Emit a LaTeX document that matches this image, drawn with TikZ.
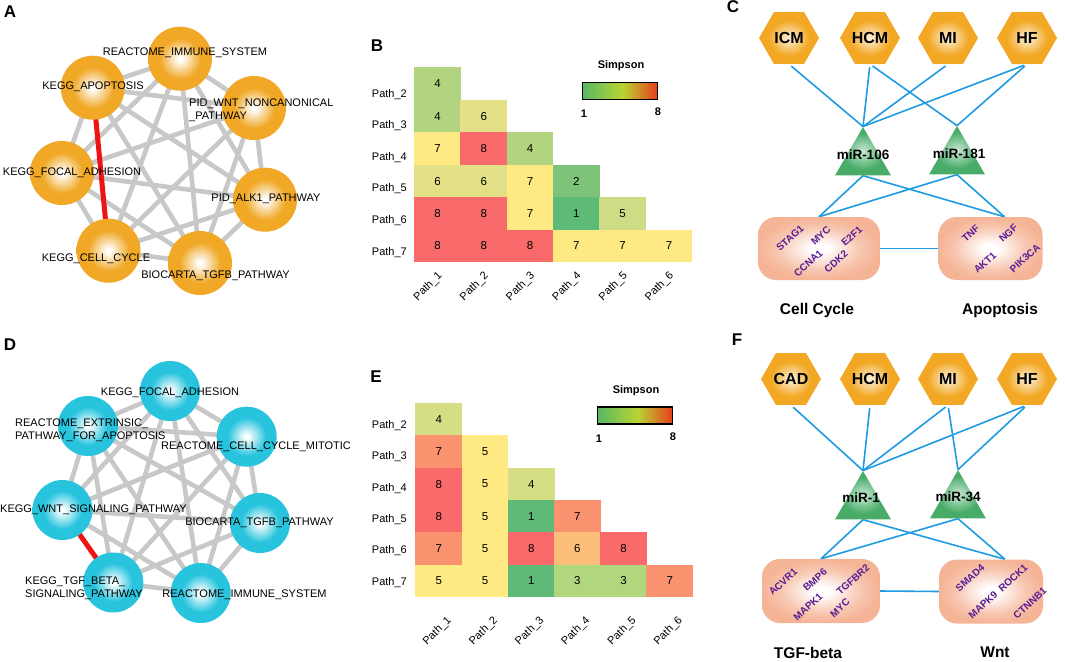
\documentclass[tikz,border=0pt]{standalone}
\usepackage{fontspec}
\setmainfont{Liberation Sans}
\usetikzlibrary{calc,shapes.geometric,backgrounds}
\definecolor{nodeor}{RGB}{240,168,38}
\definecolor{nodecy}{RGB}{40,196,222}
\definecolor{edgegr}{RGB}{200,200,200}
\definecolor{edgered}{RGB}{238,20,20}
\definecolor{linkbl}{RGB}{30,155,225}
\definecolor{genepu}{RGB}{88,28,150}
\definecolor{hexor}{RGB}{242,168,36}
\definecolor{trigr}{RGB}{72,172,104}
\definecolor{boxsa}{RGB}{245,180,150}
\definecolor{cbone}{RGB}{88,184,100}
\definecolor{cbtwo}{RGB}{185,212,50}
\definecolor{cbthree}{RGB}{232,60,28}
\definecolor{B1}{HTML}{5DBB77}
\definecolor{B2}{HTML}{7DC47A}
\definecolor{B4}{HTML}{B3D47F}
\definecolor{B5}{HTML}{CEDC86}
\definecolor{B6}{HTML}{E3E088}
\definecolor{B7}{HTML}{FEE983}
\definecolor{B8}{HTML}{F96A6A}
\definecolor{E1}{HTML}{5DBB77}
\definecolor{E3}{HTML}{B0D67E}
\definecolor{E4}{HTML}{D6DE85}
\definecolor{E5}{HTML}{FEE983}
\definecolor{E6}{HTML}{FDBE7C}
\definecolor{E7}{HTML}{FA9270}
\definecolor{E8}{HTML}{F96A6A}
\pgfdeclareradialshading{ballor}{\pgfpoint{0bp}{0bp}}{color(0bp)=(white); color(1.5bp)=(white); color(16bp)=(nodeor); color(25bp)=(nodeor); color(50bp)=(nodeor)}
\pgfdeclareradialshading{ballcy}{\pgfpoint{0bp}{0bp}}{color(0bp)=(white); color(1.5bp)=(white); color(16bp)=(nodecy); color(25bp)=(nodecy); color(50bp)=(nodecy)}
\pgfdeclareradialshading{hexsh}{\pgfpoint{0bp}{0bp}}{color(0bp)=(white!85!hexor); color(17bp)=(hexor); color(50bp)=(hexor)}
\pgfdeclareradialshading{trish}{\pgfpoint{0bp}{0bp}}{color(0bp)=(white!72!trigr); color(19bp)=(trigr); color(50bp)=(trigr)}
\pgfdeclareradialshading{boxsh}{\pgfpoint{0bp}{0bp}}{color(0bp)=(white); color(3.5bp)=(white); color(17bp)=(boxsa!75!white); color(25bp)=(boxsa); color(50bp)=(boxsa)}
\pgfdeclarehorizontalshading{simpsh}{100bp}{color(0bp)=(cbone); color(25bp)=(cbone); color(52bp)=(cbtwo); color(75bp)=(cbthree); color(100bp)=(cbthree)}
\tikzset{
  lbl/.style={font=\fontsize{11}{13}\selectfont, inner sep=0, align=center},
  lbll/.style={font=\fontsize{11}{13}\selectfont, inner sep=0, align=left, anchor=west},
  panel/.style={font=\fontsize{17}{20}\selectfont\bfseries, inner sep=0},
  hcell/.style={minimum width=46.7pt, minimum height=32.8pt, inner sep=0, font=\fontsize{11.5}{13}\selectfont},
  axlbl/.style={font=\fontsize{11}{13}\selectfont, inner sep=1pt},
  legt/.style={font=\fontsize{11}{13}\selectfont\bfseries, inner sep=0},
  cbar/.style={draw=black, line width=1.6pt, minimum width=75pt, minimum height=17pt, inner sep=0, shading=simpsh},
  ballA/.style={circle, minimum size=64pt, inner sep=0, shading=ballor},
  ballD/.style={circle, minimum size=60pt, inner sep=0, shading=ballcy},
  gedge/.style={draw=edgegr, line width=4.6pt},
  redge/.style={draw=edgered, line width=5pt},
  hexn/.style={regular polygon, regular polygon sides=6, minimum size=60pt, inner sep=0, shading=hexsh, font=\fontsize{16}{18}\selectfont\bfseries},
  trin/.style={regular polygon, regular polygon sides=3, minimum size=64.6pt, inner sep=0, shading=trish},
  mirlbl/.style={font=\fontsize{13.5}{15}\selectfont\bfseries, inner sep=0},
  genebox/.style={rectangle, rounded corners=18pt, minimum height=63pt, inner sep=0, shading=boxsh},
  gene/.style={font=\fontsize{10}{12}\selectfont\bfseries, text=genepu, rotate=42, inner sep=0},
  link/.style={draw=linkbl, line width=1.6pt},
  grp/.style={font=\fontsize{15.5}{18}\selectfont\bfseries, inner sep=0}
}
\begin{document}
\begin{tikzpicture}[x=1pt,y=-1pt]
\useasboundingbox (0,0) rectangle (1065,661);
\begin{scope}[on background layer]
\fill[white] (0,0) rectangle (1065,661);
\end{scope}

% ---------------- panel letters
\node[panel] (pA) at (10,12) {A};
\node[panel] (pB) at (377,46) {B};
\node[panel] (pC) at (733,7) {C};
\node[panel] (pD) at (10,345) {D};
\node[panel] (pE) at (376,377) {E};
\node[panel] (pF) at (737,340) {F};

% ---------------- panel A
\node[ballA] (a1) at (180,58.7) {};
\node[ballA] (a2) at (92.8,87.7) {};
\node[ballA] (a3) at (254,108) {};
\node[ballA] (a4) at (62,173) {};
\node[ballA] (a5) at (265,199.7) {};
\node[ballA] (a6) at (108.5,250.7) {};
\node[ballA] (a7) at (200,263) {};
\begin{scope}[on background layer]
\foreach \i/\j in {1/2,1/3,1/4,1/5,1/6,1/7,2/3,2/4,2/5,2/7,3/4,3/5,3/6,3/7,4/5,4/6,4/7,5/6,5/7,6/7}
  \draw[gedge] (a\i.center) -- (a\j.center);
\draw[redge] (a2.center) -- (a6.center);
\end{scope}
\node[lbl] (la1) at (185,53) {REACTOME\_IMMUNE\_SYSTEM};
\node[lbl] (la2) at (93,87) {KEGG\_APOPTOSIS};
\node[lbll] (la3) at (189,110.5) {PID\_WNT\_NONCANONICAL\\\_PATHWAY};
\node[lbl] (la4) at (72,173) {KEGG\_FOCAL\_ADHESION};
\node[lbl] (la5) at (266,199) {PID\_ALK1\_PATHWAY};
\node[lbl] (la6) at (96,259) {KEGG\_CELL\_CYCLE};
\node[lbl] (la7) at (215.5,276) {BIOCARTA\_TGFB\_PATHWAY};

% ---------------- panel D
\node[ballD] (d1) at (170,391) {};
\node[ballD] (d2) at (88,426) {};
\node[ballD] (d3) at (246.7,436.7) {};
\node[ballD] (d4) at (62.5,510) {};
\node[ballD] (d5) at (260,523) {};
\node[ballD] (d6) at (113.3,582.5) {};
\node[ballD] (d7) at (200.7,593) {};
\begin{scope}[on background layer]
\foreach \i/\j in {1/2,1/3,1/4,1/5,1/6,1/7,2/3,2/4,2/5,2/6,2/7,3/4,3/5,3/6,3/7,4/5,4/7,5/6,5/7,6/7}
  \draw[gedge] (d\i.center) -- (d\j.center);
\draw[redge] (d4.center) -- (d6.center);
\end{scope}
\node[lbl] (ld1) at (170,393) {KEGG\_FOCAL\_ADHESION};
\node[lbll] (ld2) at (15,430.5) {REACTOME\_EXTRINSIC\_\\PATHWAY\_FOR\_APOPTOSIS};
\node[lbll] (ld3) at (161,447) {REACTOME\_CELL\_CYCLE\_MITOTIC};
\node[lbl] (ld4) at (93.5,510) {KEGG\_WNT\_SIGNALING\_PATHWAY};
\node[lbl] (ld5) at (259.5,523) {BIOCARTA\_TGFB\_PATHWAY};
\node[lbll] (ld6) at (25,588.5) {KEGG\_TGF\_BETA\_\\SIGNALING\_PATHWAY};
\node[lbl] (ld7) at (244.5,595) {REACTOME\_IMMUNE\_SYSTEM};

% ---------------- panel B heatmap
\foreach \r/\vals in {2/{4},3/{4,6},4/{7,8,4},5/{6,6,7,2},6/{8,8,7,1,5},7/{8,8,8,7,7,7}}{
  \foreach \v [count=\c] in \vals {
    \node[hcell, fill=B\v] (B-\r-\c) at ({414.3+46.3*(\c-0.5)},{67.7+32.4*(\r-1.5)}) {\v};
  }
}
\foreach \r in {2,...,7}
  \node[axlbl, anchor=east] (BR\r) at (408,{94.3+31.6*(\r-2)}) {Path\_\r};
\foreach \c in {1,...,6}
  \node[axlbl, rotate=45, anchor=east] (BC\c) at ({414.3+46.3*(\c-0.5)+3.8},273.5) {Path\_\c};
\node[legt] (BS) at (621,66) {Simpson};
\node[cbar] (Bbar) at (620,91) {};
\node[legt] (Bmin) at (584,114) {1};
\node[legt] (Bmax) at (658,112) {8};

% ---------------- panel E heatmap
\foreach \r/\vals in {2/{4},3/{7,5},4/{8,5,4},5/{8,5,1,7},6/{7,5,8,6,8},7/{5,5,1,3,3,7}}{
  \foreach \v [count=\c] in \vals {
    \node[hcell, fill=E\v] (E-\r-\c) at ({415.7+46.2*(\c-0.5)},{403.3+32.3*(\r-1.5)}) {\v};
  }
}
\foreach \r in {2,...,7}
  \node[axlbl, anchor=east] (ER\r) at (408,{425.5+31.4*(\r-2)}) {Path\_\r};
\foreach \c in {1,...,6}
  \node[axlbl, rotate=45, anchor=east] (EC\c) at ({415.7+46.2*(\c-0.5)+11.7},618) {Path\_\c};
\node[legt] (ES) at (636,391) {Simpson};
\node[legt] (Emin) at (599,439) {1};
\node[legt] (Emax) at (673,437) {8};
\node[cbar] (Ebar) at (635,415.5) {};

% ---------------- panel C
\node[hexn] (icm) at (789,38) {ICM};
\node[hexn] (hcm) at (870,38) {HCM};
\node[hexn] (mi) at (948,38) {MI};
\node[hexn] (hf) at (1027,38) {HF};
\node[trin] (m106) at (863,159.3) {};
\node[trin] (m181) at (957,158.3) {};
\node[mirlbl] (m106t) at (863,155) {miR-106};
\node[mirlbl] (m181t) at (959,154) {miR-181};
\node[genebox, minimum width=122pt] (cc) at (819,248.5) {};
\node[genebox, minimum width=104pt] (ap) at (990.5,248.5) {};
\begin{scope}[on background layer]
\foreach \h/\t in {icm/m106,hcm/m106,hcm/m181,mi/m106,hf/m106,hf/m181}
  \draw[link, shorten <=3pt] (\h.south) -- (\t.north);
\draw[link] (m106.south) -- (cc.north);
\draw[link] (m181.south) -- (cc.north);
\draw[link] (m106.south) -- ($(ap.north)+(14,0)$);
\draw[link] (m181.south) -- ($(ap.north)+(14,0)$);
\draw[link] (cc.east) -- (ap.west);
\end{scope}
\node[gene] (g1) at (790,238.3) {STAG1};
\node[gene] (g2) at (820.7,236) {MYC};
\node[gene] (g3) at (851.7,236) {E2F1};
\node[gene] (g4) at (808.3,263.3) {CCNA1};
\node[gene] (g5) at (836,261.7) {CDK2};
\node[gene] (g6) at (970.7,233.3) {TNF};
\node[gene] (g7) at (1008.3,233.3) {NGF};
\node[gene] (g8) at (985,262.7) {AKT1};
\node[gene] (g9) at (1025,258.3) {PIK3CA};
\node[grp] (ccl) at (817,310) {Cell Cycle};
\node[grp] (apl) at (1000,310) {Apoptosis};

% ---------------- panel F
\node[hexn] (cad) at (791,379) {CAD};
\node[hexn] (hcm2) at (870,379) {HCM};
\node[hexn] (mi2) at (948,379) {MI};
\node[hexn] (hf2) at (1027,379) {HF};
\node[trin] (m1) at (863,503.3) {};
\node[trin] (m34) at (958,502.3) {};
\node[mirlbl] (m1t) at (861,498) {miR-1};
\node[mirlbl] (m34t) at (958,497) {miR-34};
\node[genebox, minimum width=118pt, minimum height=64pt] (tgf) at (821,591) {};
\node[genebox, minimum width=104pt, minimum height=64pt] (wnt) at (991,591.5) {};
\begin{scope}[on background layer]
\foreach \h/\t in {cad/m1,hcm2/m1,mi2/m1,mi2/m34,hf2/m1,hf2/m34}
  \draw[link, shorten <=3pt] (\h.south) -- (\t.north);
\draw[link] (m1.south) -- (tgf.north);
\draw[link] (m34.south) -- (tgf.north);
\draw[link] (m1.south) -- ($(wnt.north)+(14,0)$);
\draw[link] (m34.south) -- ($(wnt.north)+(14,0)$);
\draw[link] (tgf.east) -- (wnt.west);
\end{scope}
\node[gene] (f1) at (783,582) {ACVR1};
\node[gene] (f2) at (815,580) {BMP6};
\node[gene] (f3) at (853,580) {TGFBR2};
\node[gene] (f4) at (808,607) {MAPK1};
\node[gene] (f5) at (840,608) {MYC};
\node[gene] (f6) at (970,578) {SMAD4};
\node[gene] (f7) at (1013,578) {ROCK1};
\node[gene] (f8) at (983,605) {MAPK9};
\node[gene] (f9) at (1030,603) {CTNNB1};
\node[grp] (tgfl) at (808,652.5) {TGF-beta};
\node[grp] (wntl) at (995,652.5) {Wnt};
\end{tikzpicture}
\end{document}
